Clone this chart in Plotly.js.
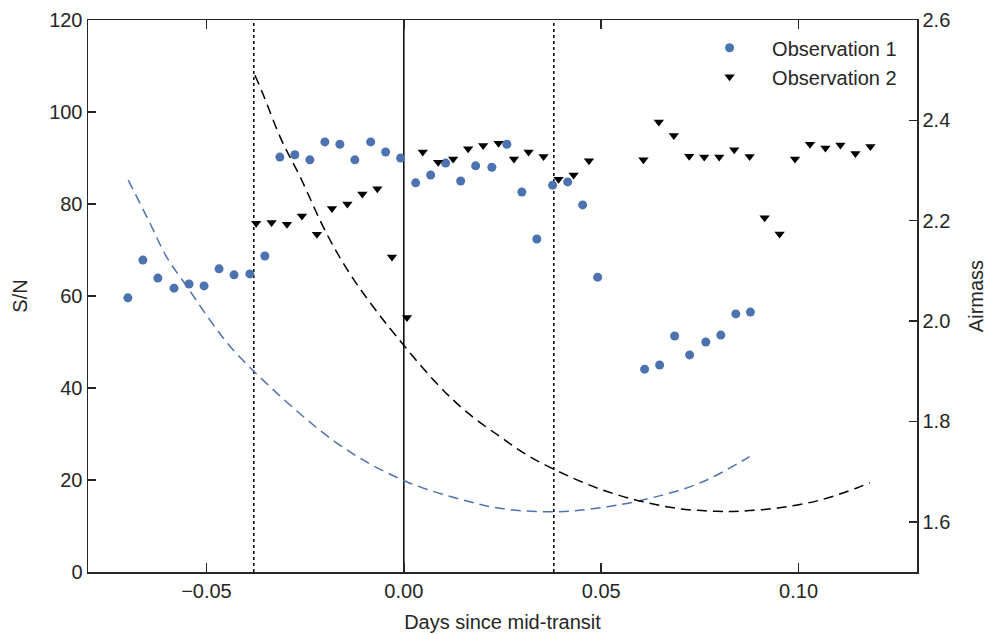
<!DOCTYPE html>
<html>
<head>
<meta charset="utf-8">
<script src="https://cdn.plot.ly/plotly-3.0.1.min.js"></script>
<style>html,body{margin:0;padding:0;background:#fff;}#chart{width:987px;height:635px;}</style>
</head>
<body>
<div id="chart"></div>
<script>
// Observation 1 (S/N)
const obs1Days = [-0.0699,-0.0661,-0.0623,-0.0582,-0.0544,-0.0506,-0.0468,-0.0430,-0.0390,-0.0352,
  -0.0314,-0.0276,-0.0238,-0.0200,-0.0162,-0.0124,-0.0084,-0.0046,-0.0008,0.0030,
  0.0068,0.0106,0.0144,0.0182,0.0223,0.0261,0.0299,0.0337,0.0377,0.0415,0.0453,0.0491,
  0.0610,0.0648,0.0686,0.0724,0.0765,0.0803,0.0841,0.0878];
const obs1SN = [59.6,67.8,63.9,61.7,62.6,62.2,65.9,64.6,64.8,68.7,
  90.2,90.7,89.6,93.5,93.0,89.6,93.5,91.3,90.0,84.6,
  86.3,88.9,85.0,88.3,88.0,93.0,82.6,72.4,84.1,84.8,79.8,64.1,
  44.1,45.0,51.3,47.2,50.0,51.5,56.1,56.5];

// Observation 2 (S/N)
const obs2Days = [-0.0374,-0.0335,-0.0296,-0.0258,-0.0220,-0.0182,-0.0143,-0.0105,-0.0067,-0.0030,
  0.0008,0.0048,0.0087,0.0125,0.0163,0.0201,0.0240,0.0279,0.0316,0.0354,
  0.0392,0.0430,0.0469,0.0607,0.0646,0.0684,0.0723,0.0761,0.0799,0.0837,
  0.0876,0.0914,0.0952,0.0991,0.1029,0.1068,0.1106,0.1144,0.1182];
const obs2SN = [75.8,76.0,75.6,77.4,73.4,79.0,80.0,82.2,83.3,68.5,
  55.3,91.3,89.1,89.8,92.0,92.7,93.2,89.8,91.3,90.3,
  85.4,86.3,89.4,89.6,97.8,94.9,90.4,90.2,90.2,91.8,
  90.3,77.0,73.5,89.8,93.0,92.2,92.8,91.0,92.5];

// Airmass, Observation 1
const air1Days = [-0.0698,-0.0643,-0.0601,-0.0546,-0.0491,-0.0420,-0.0175,-0.0002,0.0167,0.0260,
  0.0387,0.0488,0.0597,0.0749,0.0876];
const air1Vals = [2.281,2.195,2.128,2.065,2.002,1.932,1.760,1.683,1.640,1.625,
  1.620,1.627,1.642,1.677,1.730];

// Airmass, Observation 2
const air2Days = [-0.0377,-0.0356,-0.0310,-0.0263,-0.0196,-0.0137,-0.0078,-0.0018,0.0083,0.0159,
  0.0243,0.0319,0.0412,0.0505,0.0606,0.0699,0.0792,0.0851,0.0952,0.1053,0.1146,0.1180];
const air2Vals = [2.490,2.451,2.361,2.288,2.175,2.095,2.029,1.969,1.876,1.819,
  1.770,1.730,1.693,1.663,1.640,1.626,1.621,1.621,1.628,1.643,1.667,1.678];

// Vertical reference lines (days)
const contactDays = [-0.038, 0.038];
const midTransitDay = [0];

const xTickVals = [-0.05, 0, 0.05, 0.10];
const xTickText = ['\u22120.05', '0.00', '0.05', '0.10'];

const BLUE = '#4C72B0';
const DARK = '#262626';
const FONT = 'Liberation Sans, Arial, sans-serif';

const traces = [
  {x: obs1Days, y: obs1SN, type: 'scatter', mode: 'markers', name: 'Observation 1',
   marker: {color: BLUE, size: 9, symbol: 'circle'}},
  {x: obs2Days, y: obs2SN, type: 'scatter', mode: 'markers', name: 'Observation 2',
   marker: {color: '#000000', size: 9, symbol: 'triangle-down'}},
  {x: air1Days, y: air1Vals, type: 'scatter', mode: 'lines', yaxis: 'y2', showlegend: false,
   line: {color: BLUE, width: 1.5, dash: '10px,6px', shape: 'spline'}, hoverinfo: 'skip'},
  {x: air2Days, y: air2Vals, type: 'scatter', mode: 'lines', yaxis: 'y2', showlegend: false,
   line: {color: '#000000', width: 1.5, dash: '10px,6px', shape: 'spline'}, hoverinfo: 'skip'}
];

const shapes = [];
contactDays.forEach(d => shapes.push({type: 'line', xref: 'x', yref: 'paper', x0: d, x1: d, y0: 0, y1: 1,
  line: {color: '#000000', width: 1.5, dash: 'dot'}, layer: 'below'}));
midTransitDay.forEach(d => shapes.push({type: 'line', xref: 'x', yref: 'paper', x0: d, x1: d, y0: 0, y1: 1,
  line: {color: '#000000', width: 1.5}, layer: 'below'}));

const layout = {
  width: 987, height: 635,
  margin: {l: 88, r: 70, t: 20, b: 63},
  paper_bgcolor: '#ffffff', plot_bgcolor: '#ffffff',
  font: {family: FONT, size: 20, color: DARK},
  showlegend: true,
  legend: {x: 0.982, xanchor: 'right', y: 0.985, yanchor: 'top', bgcolor: 'rgba(0,0,0,0)',
    font: {family: FONT, size: 20, color: DARK}, itemwidth: 75},
  xaxis: {
    range: [-0.08, 0.13], tickvals: xTickVals, ticktext: xTickText,
    ticks: 'inside', ticklen: 9, tickwidth: 1.5, tickcolor: DARK,
    showline: true, linecolor: DARK, linewidth: 1.5, mirror: 'ticks',
    showgrid: false, zeroline: false,
    tickfont: {family: FONT, size: 20, color: DARK},
    title: {text: 'Days since mid-transit', font: {family: FONT, size: 20, color: DARK}, standoff: 14}
  },
  yaxis: {
    range: [0, 120], dtick: 20, tick0: 0,
    ticks: 'inside', ticklen: 8, tickwidth: 1.5, tickcolor: DARK,
    showline: true, linecolor: DARK, linewidth: 1.5,
    showgrid: false, zeroline: false,
    tickfont: {family: FONT, size: 20, color: DARK},
    title: {text: 'S/N', font: {family: FONT, size: 20, color: DARK}, standoff: 16}
  },
  yaxis2: {
    overlaying: 'y', side: 'right',
    range: [1.5, 2.6], dtick: 0.2, tick0: 1.6, tickformat: '.1f',
    ticks: 'inside', ticklen: 8, tickwidth: 1.5, tickcolor: DARK,
    showline: true, linecolor: DARK, linewidth: 1.5,
    showgrid: false, zeroline: false,
    tickfont: {family: FONT, size: 20, color: DARK},
    title: {text: 'Airmass', font: {family: FONT, size: 20, color: DARK}, standoff: 19}
  },
  shapes: shapes
};

Plotly.newPlot('chart', traces, layout, {displayModeBar: false, staticPlot: true});
</script>
</body>
</html>
